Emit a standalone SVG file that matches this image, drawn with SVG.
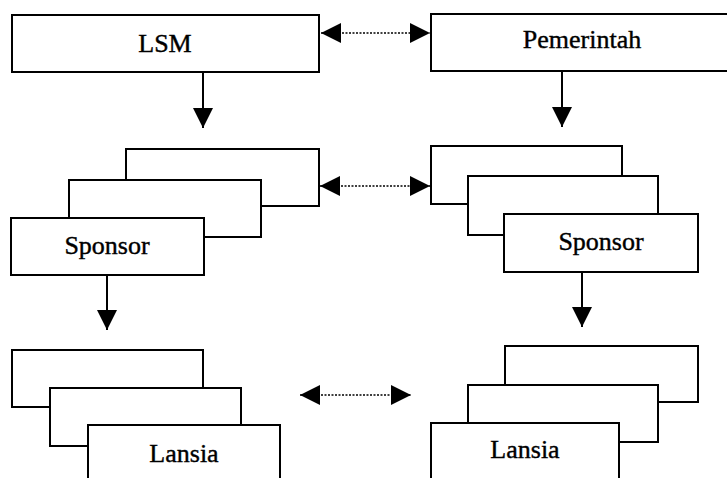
<svg xmlns="http://www.w3.org/2000/svg" width="727" height="478" viewBox="0 0 727 478">
  <style>
    .box { fill: #fff; stroke: #000; stroke-width: 2; }
    .lbl { font-family: "Liberation Serif", "Times New Roman", serif; font-size: 26px; fill: #000; stroke: #000; stroke-width: 0.4; text-anchor: middle; }
    .flow { stroke: #000; stroke-width: 2; fill: none; }
    .link { stroke: #000; stroke-width: 1.3; stroke-dasharray: 2 1.5; fill: none; }
  </style>
  <defs>
    <marker id="head" markerUnits="userSpaceOnUse" markerWidth="21" markerHeight="21" refX="20" refY="10" orient="auto-start-reverse">
      <path d="M0,0 L20,10 L0,20 Z" fill="#000"/>
    </marker>
  </defs>
  <rect width="727" height="478" fill="#fff"/>

  <!-- top row -->
  <g id="lsm">
    <rect class="box" x="12" y="15" width="307" height="57"/>
    <text class="lbl" x="165" y="52" font-size="25">LSM</text>
  </g>
  <g id="pemerintah">
    <rect class="box" x="431" y="14" width="310" height="57"/>
    <text class="lbl" x="582" y="48">Pemerintah</text>
  </g>

  <!-- sponsor stacks -->
  <g id="sponsor-lsm">
    <rect class="box" x="126" y="149" width="193" height="57"/>
    <rect class="box" x="69" y="180" width="192" height="57"/>
    <rect class="box" x="11" y="218" width="193" height="57"/>
    <text class="lbl" x="107" y="254">Sponsor</text>
  </g>
  <g id="sponsor-pemerintah">
    <rect class="box" x="431" y="146" width="191" height="58"/>
    <rect class="box" x="468" y="176" width="190" height="59"/>
    <rect class="box" x="504" y="214" width="194" height="58"/>
    <text class="lbl" x="601" y="250">Sponsor</text>
  </g>

  <!-- lansia stacks -->
  <g id="lansia-lsm">
    <rect class="box" x="12" y="350" width="191" height="57"/>
    <rect class="box" x="50" y="388" width="191" height="58"/>
    <rect class="box" x="88" y="425" width="192" height="70"/>
    <text class="lbl" x="184" y="462">Lansia</text>
  </g>
  <g id="lansia-pemerintah">
    <rect class="box" x="505" y="346" width="193" height="56"/>
    <rect class="box" x="468" y="385" width="190" height="57"/>
    <rect class="box" x="431" y="423" width="188" height="70"/>
    <text class="lbl" x="525" y="458">Lansia</text>
  </g>

  <!-- connectors -->
  <g id="connectors">
    <line class="flow" x1="203" y1="72" x2="203" y2="128" marker-end="url(#head)"/>
    <line class="flow" x1="562" y1="71" x2="562" y2="127" marker-end="url(#head)"/>
    <line class="flow" x1="107" y1="275" x2="107" y2="330" marker-end="url(#head)"/>
    <line class="flow" x1="582" y1="272" x2="582" y2="327" marker-end="url(#head)"/>
    <line class="link" x1="321" y1="33" x2="430" y2="33" marker-start="url(#head)" marker-end="url(#head)"/>
    <line class="link" x1="320" y1="186" x2="430" y2="186" marker-start="url(#head)" marker-end="url(#head)"/>
    <line class="link" x1="300" y1="395" x2="411" y2="395" marker-start="url(#head)" marker-end="url(#head)"/>
  </g>
</svg>
